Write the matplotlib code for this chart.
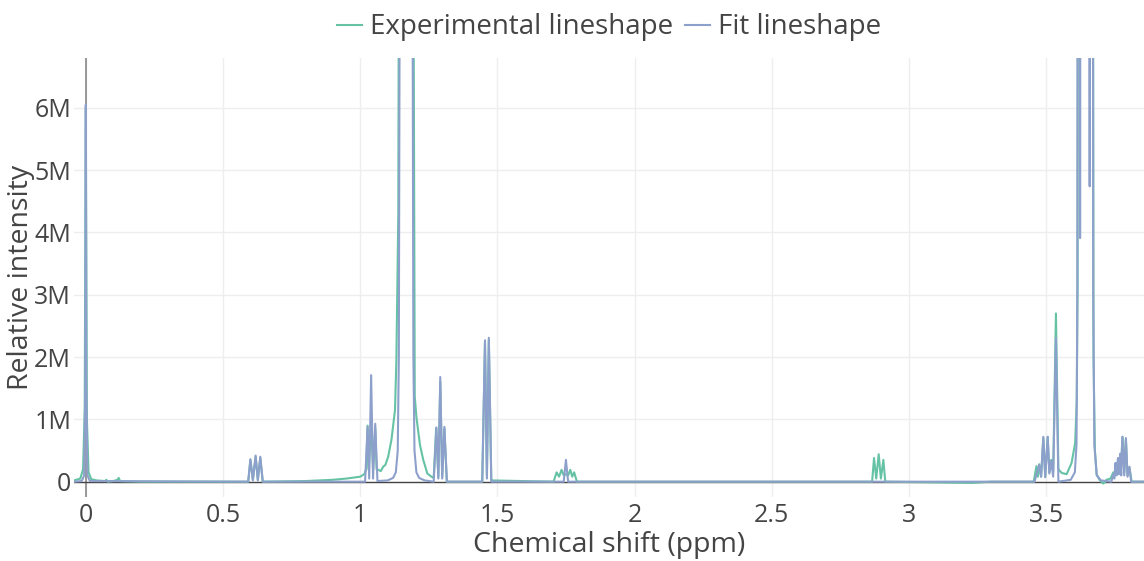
import matplotlib
matplotlib.use("Agg")
import matplotlib.pyplot as plt
from matplotlib.ticker import FuncFormatter

# ---- data (ppm, intensity in millions) ----
exp_ppm = [-0.043, -0.02, -0.01, -0.004, 0.0, 0.004, 0.01, 0.02, 0.04, 0.07, 0.075, 0.08, 0.10, 0.115, 0.12, 0.125, 0.2,
           0.592, 0.600, 0.609, 0.619, 0.627, 0.636, 0.645,
           0.8, 0.9, 0.95, 1.0, 1.015, 1.022, 1.027, 1.031, 1.040, 1.047, 1.055, 1.060, 1.066, 1.075, 1.084, 1.092, 1.102,
           1.114, 1.127, 1.132, 1.139, 1.143, 1.167, 1.192, 1.199, 1.205, 1.218, 1.230, 1.245, 1.260, 1.268,
           1.277, 1.285, 1.292, 1.299, 1.307, 1.316,
           1.445, 1.455, 1.462, 1.469, 1.478,
           1.705, 1.716, 1.725, 1.734, 1.742, 1.750, 1.758, 1.766, 1.773, 1.780, 1.79,
           2.866, 2.873, 2.881, 2.890, 2.898, 2.907, 2.914,
           3.23, 3.30,
           3.455, 3.465, 3.470, 3.475, 3.482, 3.490, 3.497, 3.506, 3.512, 3.519, 3.526, 3.536, 3.545, 3.557, 3.575,
           3.593, 3.606, 3.612, 3.615, 3.618, 3.668, 3.673, 3.678, 3.684, 3.695, 3.708, 3.715, 3.72, 3.735,
           3.745, 3.750, 3.755, 3.760, 3.765, 3.772, 3.779, 3.785, 3.791, 3.797, 3.804, 3.812, 3.857]
exp_int = [0.02, 0.05, 0.2, 1.15, 6.0, 1.0, 0.15, 0.04, 0.02, 0.01, 0.03, 0.0, 0.01, 0.03, 0.06, 0.01, 0.0,
           0.0, 0.35, 0.03, 0.40, 0.03, 0.38, 0.0,
           0.01, 0.03, 0.05, 0.08, 0.12, 0.2, 0.90, 0.2, 0.9, 0.2, 0.85, 0.2, 0.19, 0.17, 0.24, 0.27, 0.40,
           0.67, 1.15, 1.95, 4.3, 12.0, 20.0, 12.0, 1.37, 1.04, 0.59, 0.35, 0.13, 0.08, 0.06,
           0.86, 0.08, 1.60, 0.08, 0.85, 0.0,
           0.0, 2.24, 0.1, 2.28, 0.02,
           0.0, 0.15, 0.08, 0.19, 0.1, 0.12, 0.1, 0.19, 0.08, 0.15, 0.0,
           0.0, 0.38, 0.05, 0.44, 0.05, 0.35, 0.0,
           -0.02, 0.0,
           0.0, 0.25, 0.08, 0.28, 0.08, 0.70, 0.08, 0.72, 0.15, 0.35, 0.15, 2.70, 0.2, 0.14, 0.12,
           0.30, 0.62, 1.31, 3.19, 20.0, 20.0, 2.0, 0.5, 0.12, 0.03, -0.03, -0.01, 0.03, 0.05,
           0.15, 0.1, 0.30, 0.2, 0.35, 0.2, 0.72, 0.15, 0.68, 0.1, 0.22, 0.0, 0.0]

fit_ppm = [-0.043, -0.015, -0.006, -0.002, 0.0, 0.002, 0.006, 0.015,
           0.592, 0.600, 0.609, 0.619, 0.627, 0.636, 0.645,
           1.018, 1.027, 1.033, 1.040, 1.047, 1.055, 1.063,
           1.10, 1.12, 1.13, 1.137, 1.141, 1.144, 1.167, 1.191, 1.194, 1.198, 1.205, 1.215, 1.235,
           1.268, 1.278, 1.285, 1.292, 1.299, 1.307, 1.316,
           1.445, 1.455, 1.462, 1.469, 1.478,
           1.742, 1.750, 1.758,
           3.458, 3.475, 3.482, 3.490, 3.497, 3.506, 3.512, 3.519, 3.526, 3.536, 3.545,
           3.59, 3.605, 3.611, 3.614, 3.617, 3.622, 3.624, 3.627, 3.656, 3.659, 3.662, 3.669, 3.672, 3.676, 3.685, 3.70,
           3.738, 3.745, 3.749, 3.753, 3.757, 3.762, 3.766, 3.770, 3.774, 3.778, 3.785, 3.791, 3.797, 3.804, 3.81, 3.857]
fit_int = [0.0, 0.01, 0.1, 1.5, 6.05, 1.5, 0.1, 0.01,
           0.0, 0.36, 0.02, 0.42, 0.02, 0.40, 0.0,
           0.0, 0.88, 0.05, 1.71, 0.05, 0.93, 0.01,
           0.02, 0.06, 0.15, 0.5, 2.0, 8.0, 20.0, 8.0, 2.0, 0.5, 0.15, 0.06, 0.02,
           0.0, 0.87, 0.05, 1.68, 0.05, 0.88, 0.0,
           0.0, 2.27, 0.05, 2.31, 0.0,
           0.0, 0.35, 0.0,
           0.0, 0.27, 0.08, 0.72, 0.07, 0.72, 0.13, 0.33, 0.08, 2.30, 0.0,
           0.03, 0.15, 0.6, 3.0, 20.0, 20.0, 3.91, 20.0, 20.0, 4.74, 20.0, 20.0, 3.0, 0.6, 0.1, 0.02,
           0.0, 0.12, 0.05, 0.30, 0.10, 0.38, 0.12, 0.45, 0.1, 0.72, 0.1, 0.70, 0.08, 0.24, 0.0, 0.0]

x_ticks = [0, 0.5, 1, 1.5, 2, 2.5, 3, 3.5]
x_tick_labels = ["0", "0.5", "1", "1.5", "2", "2.5", "3", "3.5"]
y_ticks = [0, 1, 2, 3, 4, 5, 6]

GREEN = "#66c2a5"
BLUE = "#8da0cb"
TXT = "#444444"

plt.rcParams['font.family'] = ['Open Sans', 'DejaVu Sans']

fig = plt.figure(figsize=(11.44, 5.61), dpi=100)
ax = fig.add_axes([74 / 1144, 1 - 497 / 561, 1 - 74 / 1144, (497 - 58) / 561])

ax.plot(exp_ppm, exp_int, color=GREEN, lw=1.5, label="Experimental lineshape", zorder=3)
ax.plot(fit_ppm, fit_int, color=BLUE, lw=1.5, label="Fit lineshape", zorder=4)

ax.set_xlim(-0.043, 3.857)
ax.set_ylim(-0.246, 6.80)

ax.set_xticks(x_ticks)
ax.set_xticklabels(x_tick_labels)
ax.set_yticks(y_ticks)
ax.yaxis.set_major_formatter(FuncFormatter(lambda v, p: "0" if v == 0 else f"{int(v)}M"))

ax.grid(True, color="#eeeeee", lw=1)
ax.set_axisbelow(True)
ax.axvline(0, color="#888888", lw=1.2, zorder=2)
ax.axhline(0, color="#444444", lw=1.0, zorder=2)

for s in ax.spines.values():
    s.set_visible(False)
ax.tick_params(axis='both', length=0, labelsize=18, colors=TXT)
ax.tick_params(axis='x', pad=4)
ax.tick_params(axis='y', pad=2)

ax.set_xlabel("Chemical shift (ppm)", fontsize=20.5, color=TXT)
ax.xaxis.set_label_coords(0.5005, -0.078)
ax.set_ylabel("Relative intensity", fontsize=20.5, color=TXT)
ax.yaxis.set_label_coords(-0.036, 0.5)

ax.legend(loc="lower center", bbox_to_anchor=(0.5, 1.0), ncol=2, frameon=False,
          fontsize=20, handlelength=0.9, handletextpad=0.29, columnspacing=0.4,
          labelcolor=TXT, borderaxespad=0.2)

fig.savefig("out.png", dpi=100)
